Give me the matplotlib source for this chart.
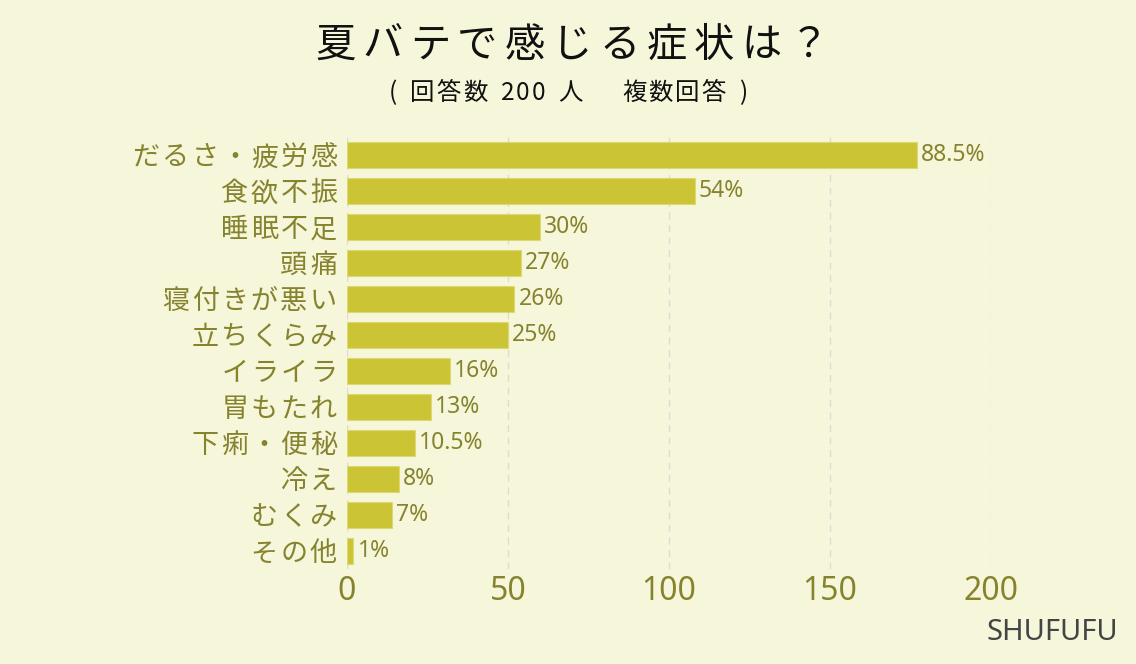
import matplotlib
matplotlib.use("Agg")
import matplotlib.pyplot as plt
from matplotlib import font_manager
from matplotlib.ft2font import FT2Font
from matplotlib.transforms import IdentityTransform

plt.rcParams["font.family"] = ["Noto Sans CJK JP", "DejaVu Sans"]

categories = ["だるさ・疲労感", "食欲不振", "睡眠不足", "頭痛", "寝付きが悪い", "立ちくらみ",
              "イライラ", "胃もたれ", "下痢・便秘", "冷え", "むくみ", "その他"]
counts = [177, 108, 60, 54, 52, 50, 32, 26, 21, 16, 14, 2]
percent_labels = ["88.5%", "54%", "30%", "27%", "26%", "25%",
                  "16%", "13%", "10.5%", "8%", "7%", "1%"]
x_ticks = [0, 50, 100, 150, 200]

title = "夏バテで感じる症状は？"
subtitle = "( 回答数 200 人　 複数回答 )"
credit = "SHUFUFU"

bg = "#f6f7da"
bar_color = "#cbc535"
text_color = "#86832f"

CJK = font_manager.FontProperties(family="Noto Sans CJK JP")
cjk_face = FT2Font(font_manager.findfont(CJK), hinting_factor=1)


def spaced_text(fig, x, y, s, size, spacing, color, align="center", space=None):
    # x, y in output pixels from the top-left corner, y is the baseline
    cjk_face.set_size(size, fig.dpi)
    advances = []
    for ch in s:
        if ch == " " and space is not None:
            advances.append(space)
        else:
            advances.append(cjk_face.load_char(ord(ch)).linearHoriAdvance / 65536)
    total = sum(advances) + spacing * (len(s) - 1)
    if align == "center":
        pos = x - total / 2
    elif align == "right":
        pos = x - total
    else:
        pos = x
    height = fig.get_figheight() * fig.dpi
    for ch, adv in zip(s, advances):
        if ch.strip():
            fig.text(pos, height - y, ch, transform=IdentityTransform(),
                     ha="left", va="baseline", fontproperties=CJK, fontsize=size, color=color)
        pos += adv + spacing


fig = plt.figure(figsize=(11.36, 6.64), dpi=100, facecolor=bg)
ax = fig.add_axes([347 / 1136, 1 - 569 / 664, (991 - 347) / 1136, (569 - 137) / 664])
ax.set_facecolor(bg)

y = list(range(len(categories)))
ax.barh(y, counts, height=0.72, color=bar_color, edgecolor="#dcd872", linewidth=0.8, zorder=3)
for yi, c, lab in zip(y, counts, percent_labels):
    ax.annotate(lab, (c, yi), xytext=(3, 0), textcoords="offset points",
                va="center", ha="left", fontsize=16.5, family="Noto Sans", color=text_color)

ax.set_xlim(0, 200)
ax.set_ylim(len(categories) - 0.5, -0.5)
ax.set_yticks(y)
ax.set_yticklabels([])
ax.set_xticks(x_ticks)
ax.set_xticklabels([str(t) for t in x_ticks], fontsize=23, family="Noto Sans", color=text_color)
ax.tick_params(length=0, pad=4)
ax.xaxis.grid(True, color="#dcdcd0", linestyle=(0, (5, 4)), linewidth=1, zorder=0)
for s in ax.spines.values():
    s.set_visible(False)

# category labels, drawn with a little letter spacing
fig_h = fig.get_figheight() * fig.dpi
label_size = 19.5
for yi, name in zip(y, categories):
    center = fig_h - ax.transData.transform((0, yi))[1]
    spaced_text(fig, 337, center + 0.38 * label_size * fig.dpi / 72, name,
                label_size, 2.5, text_color, align="right")

spaced_text(fig, 572, 57, title, 29, 7, "#111111")
spaced_text(fig, 568, 100, subtitle, 17.6, 2, "#111111", space=9)
fig.text(1118 / 1136, 1 - 632 / 664, credit, ha="right", va="center",
         fontsize=21, family="Noto Sans", color="#444444")

fig.savefig("out.png", dpi=100, facecolor=bg)
